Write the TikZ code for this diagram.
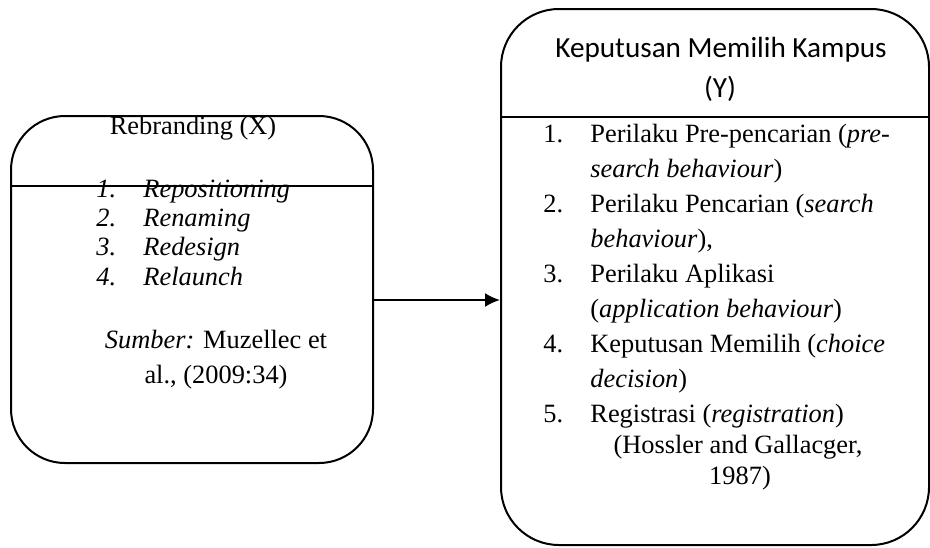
\documentclass[tikz,border=0pt]{standalone}
\usepackage{fontspec}
\setmainfont{Liberation Serif}
\newfontfamily\calibri{Carlito}
\usetikzlibrary{positioning,arrows.meta}

\begin{document}
\begin{tikzpicture}[x=0.5pt,y=-0.5pt,
  panel/.style={rectangle,draw,line width=1pt,rounded corners=27pt,inner sep=0pt},
  txt/.style={inner sep=0pt,font=\fontsize{13.2}{15}\selectfont},
  head/.style={inner sep=0pt,font=\calibri\fontsize{14.6}{18}\selectfont}]
  \useasboundingbox (0,0) rectangle (930,547);
  \node[panel,minimum width=181pt,minimum height=173.5pt] (rebrand) at (192,289.5) {};
  \node[panel,minimum width=214pt,minimum height=268pt,rounded corners=29pt] (keputusan) at (715,277) {};
  \draw[line width=1pt] (rebrand.west |- 0,186) -- (rebrand.east |- 0,186);
  \draw[line width=1pt] (keputusan.west |- 0,117) -- (keputusan.east |- 0,117);

  % left box
  \node[txt,anchor=base] (xtitle) at (193,134) {Rebranding (X)};
  \node[txt,anchor=base west] (xnum1) at (96,197) {\textit{1.}};
  \node[txt,anchor=base west] (xitem1) at (143,197) {\textit{Repositioning}};
  \node[txt,anchor=base west] (xnum2) at (96,226.3) {\textit{2.}};
  \node[txt,anchor=base west] (xitem2) at (143,226.3) {\textit{Renaming}};
  \node[txt,anchor=base west] (xnum3) at (96,255.6) {\textit{3.}};
  \node[txt,anchor=base west] (xitem3) at (143,255.6) {\textit{Redesign}};
  \node[txt,anchor=base west] (xnum4) at (96,285) {\textit{4.}};
  \node[txt,anchor=base west] (xitem4) at (143,285) {\textit{Relaunch}};
  \node[txt,anchor=base] (xsrc1) at (216,348) {\textit{Sumber:} Muzellec et};
  \node[txt,anchor=base] (xsrc2) at (216,383) {al., (2009:34)};

  % right box
  \node[head,anchor=base] (ytitle1) at (721,57) {Keputusan Memilih Kampus};
  \node[head,anchor=base] (ytitle2) at (720,97) {(Y)};
  \node[txt,anchor=base west] (ynum1) at (543,142) {1.};
  \node[txt,anchor=base west] (yitem1) at (590,142) {Perilaku Pre-pencarian (\textit{pre-}};
  \node[txt,anchor=base west] (yitem1b) at (590,177) {\textit{search behaviour})};
  \node[txt,anchor=base west] (ynum2) at (543,212) {2.};
  \node[txt,anchor=base west] (yitem2) at (590,212) {Perilaku Pencarian (\textit{search}};
  \node[txt,anchor=base west] (yitem2b) at (590,247) {\textit{behaviour}),};
  \node[txt,anchor=base west] (ynum3) at (543,282) {3.};
  \node[txt,anchor=base west] (yitem3) at (590,282) {Perilaku Aplikasi};
  \node[txt,anchor=base west] (yitem3b) at (590,317) {(\textit{application behaviour})};
  \node[txt,anchor=base west] (ynum4) at (543,352) {4.};
  \node[txt,anchor=base west] (yitem4) at (590,352) {Keputusan Memilih (\textit{choice}};
  \node[txt,anchor=base west] (yitem4b) at (590,387) {\textit{decision})};
  \node[txt,anchor=base west] (ynum5) at (543,422) {5.};
  \node[txt,anchor=base west] (yitem5) at (590,422) {Registrasi (\textit{registration})};
  \node[txt,anchor=base] (ysrc1) at (738,453) {(Hossler and Gallacger,};
  \node[txt,anchor=base] (ysrc2) at (740,484) {1987)};

  \coordinate (arrowstart) at (rebrand.east |- 0,300);
  \draw[line width=1pt,-{Latex[length=7.5pt,width=7pt]}] (arrowstart) -- (keputusan.west |- arrowstart);
\end{tikzpicture}
\end{document}
